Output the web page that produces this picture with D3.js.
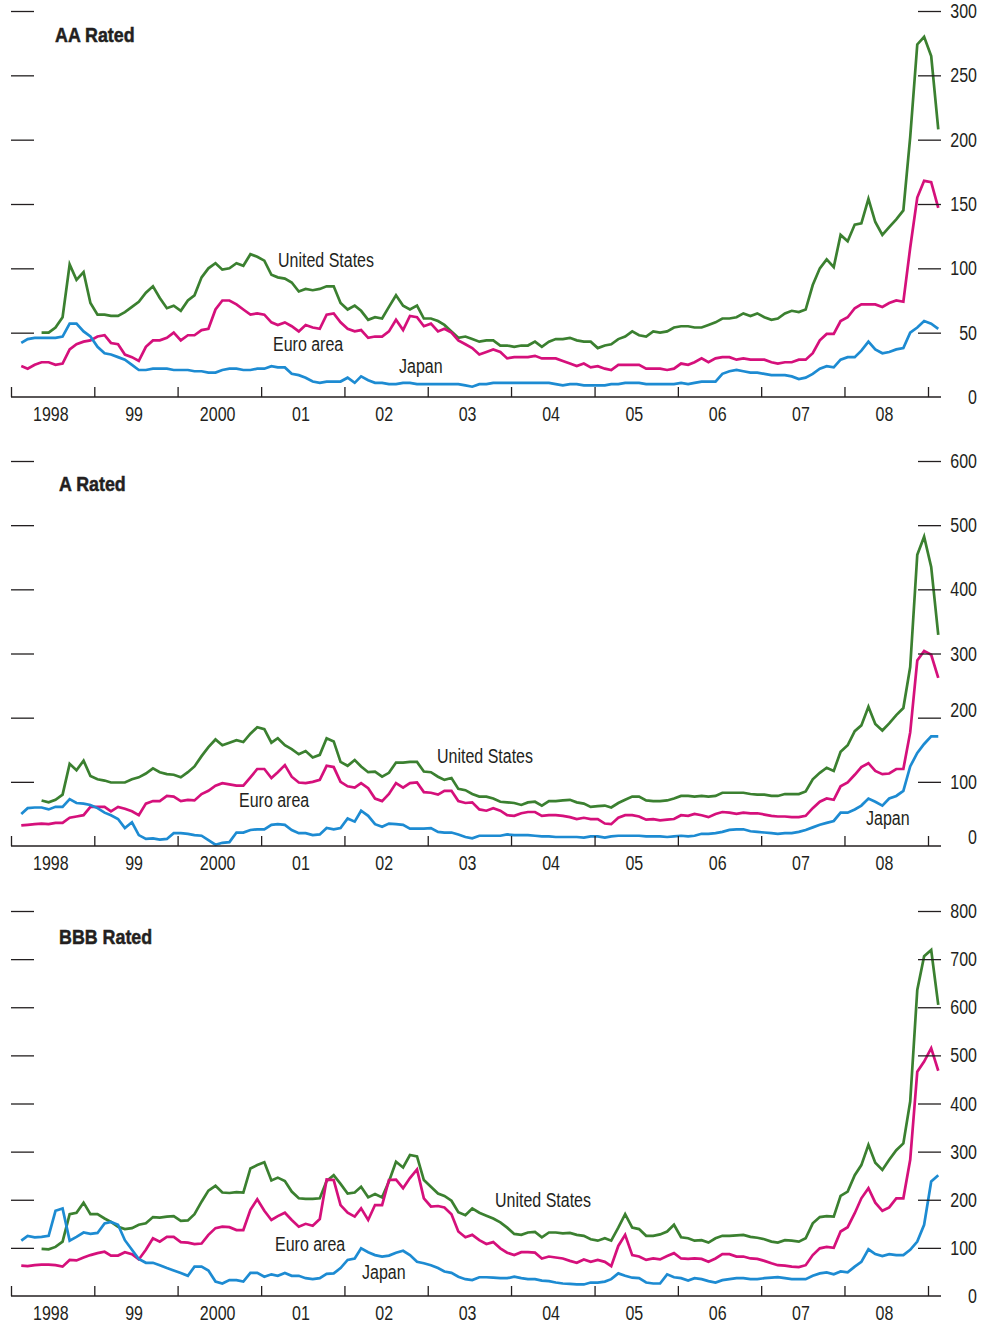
<!DOCTYPE html>
<html>
<head>
<meta charset="utf-8">
<script src="https://cdn.jsdelivr.net/npm/d3@7"></script>
<style>
  body { margin: 0; background: #fff; }
  svg text { font-family: "Liberation Sans", Arial, sans-serif; fill: #231f20; }
</style>
</head>
<body>
<svg id="chart" width="981" height="1332"></svg>
<script>
// monthly spreads, basis points. Euro area and Japan start Feb 1998, US starts May 1998; all end Feb 2009
const euroStart = [1998, 1];
const usStart = [1998, 4];

// AA rated
const aaUS = [50,50,54,62,103,91,97,73,64,64,63,63,
  66,70,74,81,86,77,69,71,67,75,79,93,
  100,104,99,100,104,102,111,109,106,95,93,92,
  89,82,84,83,84,86,86,73,68,71,67,60,
  62,61,70,79,71,68,71,61,61,59,56,51,
  46,47,45,43,44,44,40,40,39,40,40,43,
  39,43,45,45,46,44,43,43,38,40,41,45,
  47,51,48,47,51,50,51,54,55,55,54,54,
  56,58,61,61,62,65,63,65,62,60,61,65,
  67,66,68,87,100,107,101,126,121,134,135,154,
  136,126,132,138,145,202,274,280,265,208];
const aaEuro = [24,22,25,27,27,25,26,37,41,43,44,47,
  48,42,41,33,31,28,39,44,44,46,50,44,
  48,48,52,53,68,75,75,72,68,64,65,64,
  58,56,58,55,51,56,54,53,64,65,58,53,
  51,52,46,47,47,51,60,52,63,62,55,57,
  51,53,50,44,41,38,33,35,37,35,30,31,
  31,31,32,30,30,30,28,26,24,26,23,24,
  22,21,25,25,25,25,22,22,22,21,22,26,
  25,27,30,27,30,31,31,29,30,29,29,29,
  27,26,27,27,29,29,34,44,49,49,59,62,
  69,72,72,72,70,73,75,74,116,155,168,167,
  147];
const aaJapan = [42,45,46,46,46,46,47,57,57,51,47,39,
  34,33,31,29,25,21,21,22,22,22,21,21,
  21,20,20,19,19,21,22,22,21,21,22,22,
  24,23,23,18,17,15,12,11,12,12,12,15,
  11,16,13,11,11,10,10,11,11,10,10,10,
  10,10,10,10,9,8,10,10,11,11,11,11,
  11,11,11,11,11,10,9,10,10,9,9,9,
  9,10,10,11,11,11,10,10,10,10,10,11,
  10,11,12,12,12,18,20,21,20,19,19,18,
  17,17,17,16,14,15,18,22,24,23,29,31,
  31,36,43,37,34,35,37,38,50,54,59,57,
  53];

// A rated
const aUS = [71,68,72,80,128,118,133,109,104,102,99,99,
  99,104,107,113,121,115,112,111,107,115,124,140,
  154,166,157,161,165,162,175,185,182,161,168,157,
  151,143,148,138,142,168,163,131,125,134,124,115,
  116,108,114,130,130,131,131,116,115,108,103,106,
  89,87,81,77,77,74,69,68,67,64,68,69,
  63,70,70,71,72,68,66,61,62,63,60,67,
  72,77,77,71,70,70,71,74,78,78,77,78,
  77,78,83,83,83,83,81,80,80,78,78,81,
  81,81,85,104,114,122,117,147,157,179,188,217,
  190,180,191,204,215,279,454,482,435,329];
const aEuro = [32,33,34,35,34,36,36,44,46,48,61,61,
  61,54,61,58,54,48,66,70,70,78,77,70,
  72,71,81,86,94,98,96,94,94,107,120,120,
  106,115,126,108,99,98,100,103,125,123,100,93,
  91,98,90,74,70,81,98,91,98,99,84,83,
  80,86,86,70,67,68,57,55,59,55,48,47,
  51,53,53,47,48,48,47,45,42,44,42,42,
  35,34,44,48,48,46,41,42,40,41,42,48,
  47,50,48,45,50,53,52,50,52,51,51,49,
  47,46,46,45,45,47,59,69,74,72,93,99,
  111,123,129,117,112,113,120,120,177,289,304,298,
  262];
const aJapan = [50,59,60,60,57,61,61,73,67,66,64,59,
  52,48,42,28,37,17,11,12,10,11,20,20,
  19,17,16,9,2,5,6,21,21,25,26,26,
  33,34,33,25,20,20,17,18,28,26,28,43,
  38,55,47,34,30,35,34,33,27,27,27,28,
  22,21,21,18,14,12,16,16,16,16,18,17,
  17,17,16,15,15,14,14,14,14,13,15,15,
  13,15,16,16,16,16,15,15,15,14,15,16,
  15,16,19,19,20,22,25,26,26,23,22,21,
  20,19,20,20,22,25,29,33,36,39,52,52,
  57,63,74,69,63,74,78,86,124,145,159,171,
  171];

// BBB rated
const bbbUS = [98,97,102,113,170,173,194,170,170,161,154,144,
  139,141,148,151,164,163,165,166,156,157,170,196,
  219,229,215,214,216,215,265,272,278,240,246,239,
  217,203,202,202,203,239,251,233,213,215,227,205,
  212,205,238,279,267,293,290,241,227,213,208,198,
  174,168,182,173,167,161,153,142,129,127,132,133,
  122,132,132,130,131,127,125,118,115,120,115,142,
  170,142,139,125,125,128,134,148,122,120,115,116,
  111,120,125,125,126,127,123,121,118,113,111,116,
  115,113,120,151,164,166,165,208,217,251,272,314,
  277,262,283,303,317,404,636,706,719,605];
const bbbEuro = [63,62,64,65,65,64,61,75,74,80,85,89,
  92,84,84,91,87,76,96,120,113,123,123,112,
  111,108,109,127,141,144,143,137,137,179,201,177,
  158,166,173,158,144,150,146,160,242,241,189,173,
  165,182,158,189,189,241,242,224,245,263,203,186,
  187,184,170,134,122,127,116,108,112,99,90,85,
  91,91,90,78,82,80,78,73,69,76,71,75,
  71,62,104,127,85,82,75,78,76,83,89,78,
  77,78,77,71,78,87,87,82,82,78,77,73,
  68,64,63,61,60,64,85,99,102,100,134,143,
  172,203,224,194,177,184,203,203,283,466,487,515,
  468];
const bbbJapan = [115,125,122,123,125,177,182,115,123,132,129,131,
  151,154,148,116,96,77,69,69,64,58,53,48,
  42,61,61,53,30,26,33,33,30,48,48,40,
  45,42,48,42,42,37,35,37,46,47,58,75,
  78,99,91,85,82,84,90,94,85,71,68,64,
  58,51,48,40,35,33,39,39,38,37,37,40,
  37,35,35,32,31,28,26,25,24,24,28,28,
  30,35,47,42,38,37,28,26,26,45,39,37,
  32,37,35,31,28,33,35,37,37,35,35,37,
  38,39,37,35,35,35,42,47,49,45,51,49,
  61,71,97,87,83,87,85,85,96,113,148,238,
  251];

// axis ticks
const yearTicks = d3.range(1998, 2010);
const yearLabels = ["1998","99","2000","01","02","03","04","05","06","07","08"];
const aaTicks = [0,50,100,150,200,250,300];
const aTicks = [0,100,200,300,400,500,600];
const bbbTicks = [0,100,200,300,400,500,600,700,800];

const colors = { us: "#3b8030", euro: "#d5107b", japan: "#1d8bd2" };
const ink = "#231f20";
const narrow = 0.82;   //squeeze Liberation Sans to a narrow face

// panel layout
const panels = [
  { title: "AA Rated", titleX: 55, titleY: 42,
    series: { us: aaUS, euro: aaEuro, japan: aaJapan }, ticks: aaTicks,
    y0: 397, y1: 11, labelShift: {},
    labels: [ { text: "United States", x: 278, y: 267 },
              { text: "Euro area", x: 273, y: 351 },
              { text: "Japan", x: 399, y: 373 } ] },
  { title: "A Rated", titleX: 59, titleY: 491,
    series: { us: aUS, euro: aEuro, japan: aJapan }, ticks: aTicks,
    y0: 846, y1: 461, labelShift: { 0: -9, 200: -8 },
    labels: [ { text: "United States", x: 437, y: 763 },
              { text: "Euro area", x: 239, y: 807 },
              { text: "Japan", x: 866, y: 825 } ] },
  { title: "BBB Rated", titleX: 59, titleY: 944,
    series: { us: bbbUS, euro: bbbEuro, japan: bbbJapan }, ticks: bbbTicks,
    y0: 1296, y1: 911, labelShift: {},
    labels: [ { text: "United States", x: 495, y: 1207 },
              { text: "Euro area", x: 275, y: 1251 },
              { text: "Japan", x: 362, y: 1279 } ] }
];

const svg = d3.select("#chart");
svg.append("rect").attr("width", 981).attr("height", 1332).attr("fill", "#fff");

//shared time axis: Jan 1998 to Jan 2009
const x = d3.scaleTime()
  .domain([new Date(1998, 0, 1), new Date(2009, 0, 1)])
  .range([11, 928]);
const axisRightEnd = 941;

//turn a series into dated points (mid-month)
function toPoints(values, start) {
  return values.map((v, i) => ({ date: new Date(start[0], start[1] + i, 15), value: v }));
}

//place a narrow text at (px, py)
function narrowAt(px, py, sx = narrow) {
  return `translate(${px},${py}) scale(${sx},1)`;
}

panels.forEach(p => {
  const y = d3.scaleLinear().domain([0, d3.max(p.ticks)]).range([p.y0, p.y1]);
  const g = svg.append("g");

  //lines
  const line = d3.line().x(d => x(d.date)).y(d => y(d.value));
  [["us", usStart], ["euro", euroStart], ["japan", euroStart]].forEach(([key, start]) => {
    g.append("path")
      .datum(toPoints(p.series[key], start))
      .attr("fill", "none")
      .attr("stroke", colors[key])
      .attr("stroke-width", 2.7)
      .attr("d", line);
  });

  //left ticks, no labels
  const left = g.append("g")
    .attr("transform", `translate(${x.range()[0]},0)`)
    .call(d3.axisLeft(y).tickValues(p.ticks.filter(t => t > 0)).tickSize(-23).tickFormat(""));
  left.select(".domain").remove();
  left.selectAll("line").attr("stroke", ink).attr("stroke-width", 1.3);

  //right ticks with labels
  const right = g.append("g")
    .attr("transform", `translate(${axisRightEnd},0)`)
    .call(d3.axisRight(y).tickValues(p.ticks).tickSize(-23));
  right.select(".domain").remove();
  right.selectAll(".tick").filter(d => d === 0).select("line").remove();
  right.selectAll("line").attr("stroke", ink).attr("stroke-width", 1.3);
  right.selectAll("text")
    .attr("x", 0)
    .attr("transform", narrowAt(36, 0))
    .attr("dy", d => (p.labelShift[d] || 0) + 6.5)
    .attr("text-anchor", "end")
    .style("font-size", "19.5px")
    .attr("fill", ink);

  //bottom axis
  g.append("line")
    .attr("x1", x.range()[0]).attr("x2", axisRightEnd)
    .attr("y1", y(0)).attr("y2", y(0))
    .attr("stroke", ink).attr("stroke-width", 1.5);
  const bottom = g.append("g")
    .attr("transform", `translate(0,${y(0)})`)
    .call(d3.axisBottom(x).tickValues(yearTicks.map(yr => new Date(yr, 0, 1))).tickSize(-10).tickFormat(""));
  bottom.select(".domain").remove();
  bottom.selectAll("line").attr("stroke", ink).attr("stroke-width", 1.3);

  g.selectAll(".year")
    .data(yearLabels)
    .join("text")
    .attr("transform", (d, i) => narrowAt(x(new Date(1998 + i, 6, 1)) - 1.5, y(0) + 24))
    .attr("text-anchor", "middle")
    .style("font-size", "19.5px")
    .text(d => d);

  //title, a bit heavier than plain bold
  g.append("text")
    .attr("transform", narrowAt(p.titleX, p.titleY, 0.85))
    .style("font-size", "21px").style("font-weight", "bold")
    .attr("stroke", ink).attr("stroke-width", 0.5)
    .text(p.title);

  //series labels
  g.selectAll(".lbl")
    .data(p.labels)
    .join("text")
    .attr("transform", d => narrowAt(d.x, d.y))
    .style("font-size", "19.5px")
    .text(d => d.text);
});
</script>
</body>
</html>
